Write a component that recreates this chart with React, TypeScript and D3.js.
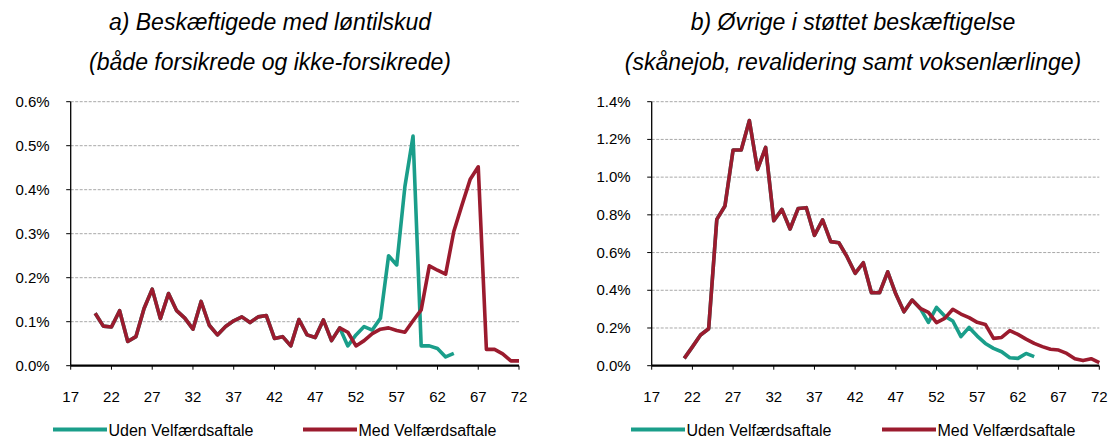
import React from "react";
import * as d3 from "d3";

// ---------- data ----------
const xTicks = [17, 22, 27, 32, 37, 42, 47, 52, 57, 62, 67, 72];
const yTicksA = [0, 0.1, 0.2, 0.3, 0.4, 0.5, 0.6];
const yTicksB = [0, 0.2, 0.4, 0.6, 0.8, 1.0, 1.2, 1.4];

const titleA = ["a) Beskæftigede med løntilskud", "(både forsikrede og ikke-forsikrede)"];
const titleB = ["b) Øvrige i støttet beskæftigelse", "(skånejob, revalidering samt voksenlærlinge)"];
const seriesNames = ["Uden Velfærdsaftale", "Med Velfærdsaftale"];

// Panel a: ages 20..72 (Med), 20..64 (Uden); values in %
const agesMedA = [20,21,22,23,24,25,26,27,28,29,30,31,32,33,34,35,36,37,38,39,40,41,42,43,44,45,46,47,48,49,50,51,52,53,54,55,56,57,58,59,60,61,62,63,64,65,66,67,68,69,70,71,72];
const medA = [0.119,0.090,0.088,0.125,0.055,0.066,0.130,0.174,0.107,0.164,0.125,0.108,0.083,0.146,0.092,0.070,0.089,0.102,0.111,0.098,0.111,0.114,0.062,0.066,0.045,0.105,0.070,0.064,0.104,0.057,0.086,0.076,0.045,0.057,0.073,0.083,0.086,0.080,0.076,0.102,0.127,0.227,0.217,0.208,0.305,0.365,0.423,0.452,0.037,0.037,0.027,0.011,0.011];
const agesUdenA = [20,21,22,23,24,25,26,27,28,29,30,31,32,33,34,35,36,37,38,39,40,41,42,43,44,45,46,47,48,49,50,51,52,53,54,55,56,57,58,59,60,61,62,63,64];
const udenA = [0.119,0.090,0.088,0.125,0.055,0.066,0.130,0.174,0.107,0.164,0.125,0.108,0.083,0.146,0.092,0.070,0.089,0.102,0.111,0.098,0.111,0.114,0.062,0.066,0.045,0.105,0.070,0.064,0.104,0.057,0.086,0.045,0.070,0.089,0.081,0.108,0.250,0.229,0.407,0.522,0.045,0.045,0.039,0.020,0.028];

// Panel b: ages 21..72 (Med), 21..64 (Uden)
const agesMedB = [21,22,23,24,25,26,27,28,29,30,31,32,33,34,35,36,37,38,39,40,41,42,43,44,45,46,47,48,49,50,51,52,53,54,55,56,57,58,59,60,61,62,63,64,65,66,67,68,69,70,71,72];
const medB = [0.039,0.100,0.163,0.196,0.776,0.847,1.144,1.144,1.300,1.041,1.158,0.769,0.829,0.725,0.834,0.838,0.691,0.773,0.658,0.652,0.578,0.490,0.546,0.387,0.387,0.498,0.380,0.286,0.348,0.304,0.283,0.228,0.251,0.299,0.274,0.255,0.230,0.219,0.145,0.150,0.186,0.166,0.141,0.118,0.101,0.087,0.083,0.065,0.037,0.027,0.037,0.016];
const agesUdenB = [21,22,23,24,25,26,27,28,29,30,31,32,33,34,35,36,37,38,39,40,41,42,43,44,45,46,47,48,49,50,51,52,53,54,55,56,57,58,59,60,61,62,63,64];
const udenB = [0.039,0.100,0.163,0.196,0.776,0.847,1.144,1.144,1.300,1.041,1.158,0.769,0.829,0.725,0.834,0.838,0.691,0.773,0.658,0.652,0.578,0.490,0.546,0.387,0.387,0.498,0.380,0.286,0.348,0.304,0.230,0.309,0.263,0.237,0.154,0.203,0.157,0.118,0.092,0.074,0.042,0.039,0.065,0.048];

const TEAL = "#1a9e8a";
const RED = "#9b1b2e";
const FONT = "'Liberation Sans', Arial, Helvetica, sans-serif";

type PanelProps = {
  x0: number; x1: number; y0: number; y1: number;
  yMax: number; yTicks: number[]; decimals: number;
  title: string[]; titleX: number;
  agesUden: number[]; uden: number[]; agesMed: number[]; med: number[];
  legendX: number[];
};

function Panel(p: PanelProps) {
  const x = d3.scaleLinear().domain([17, 72]).range([p.x0, p.x1]);
  const y = d3.scaleLinear().domain([0, p.yMax]).range([p.y1, p.y0]);
  const line = d3.line<[number, number]>().x((d) => x(d[0])).y((d) => y(d[1]));
  const udenPts = p.agesUden.map((a, i) => [a, p.uden[i]] as [number, number]);
  const medPts = p.agesMed.map((a, i) => [a, p.med[i]] as [number, number]);
  const fmt = (v: number) => v.toFixed(p.decimals) + "%";
  return (
    <g>
      {p.title.map((t, i) => (
        <text key={i} x={p.titleX} y={30 + i * 39.5} textAnchor="middle" fontStyle="italic"
          fontSize={23} fontFamily={FONT} fill="#000">{t}</text>
      ))}
      {p.yTicks.map((v) => (
        <g key={v}>
          {v > 0 && (
            <line x1={p.x0} x2={p.x1} y1={y(v)} y2={y(v)} stroke="#a8a8a8" strokeWidth={1} strokeDasharray="3,1.5" />
          )}
          <line x1={p.x0 - 4.5} x2={p.x0} y1={y(v)} y2={y(v)} stroke="#000" strokeWidth={1} />
          <text x={p.x0 - 21} y={y(v) + 5} textAnchor="end" fontSize={15} fontFamily={FONT} fill="#000">{fmt(v)}</text>
        </g>
      ))}
      {xTicks.map((t) => (
        <g key={t}>
          <line x1={x(t)} x2={x(t)} y1={p.y1} y2={p.y1 + 4} stroke="#000" strokeWidth={1} />
          <text x={x(t)} y={401.5} textAnchor="middle" fontSize={15} fontFamily={FONT} fill="#000">{t}</text>
        </g>
      ))}
      <line x1={p.x0} x2={p.x0} y1={p.y0} y2={p.y1} stroke="#000" strokeWidth={1.3} />
      <line x1={p.x0} x2={p.x1} y1={p.y1} y2={p.y1} stroke="#000" strokeWidth={2.3} />
      <path d={line(udenPts) || ""} fill="none" stroke={TEAL} strokeWidth={3.6} strokeLinejoin="round" />
      <path d={line(medPts) || ""} fill="none" stroke={RED} strokeWidth={3.6} strokeLinejoin="round" />
      {[TEAL, RED].map((c, i) => (
        <g key={i}>
          <line x1={p.legendX[i]} x2={p.legendX[i] + 54} y1={429.5} y2={429.5} stroke={c} strokeWidth={4} />
          <text x={p.legendX[i] + 55.5} y={435.5} fontSize={16} fontFamily={FONT} fill="#000">{seriesNames[i]}</text>
        </g>
      ))}
    </g>
  );
}

export default function App() {
  return (
    <div style={{ position: "fixed", left: 0, top: 0 }}>
      <svg width={1109} height={438} style={{ display: "block", background: "#fff" }}>
        <Panel x0={70.7} x1={519} y0={101.7} y1={365.7} yMax={0.6} yTicks={yTicksA} decimals={1}
          title={titleA} titleX={270} agesUden={agesUdenA} uden={udenA} agesMed={agesMedA} med={medA}
          legendX={[53, 303]} />
        <Panel x0={651.7} x1={1099.3} y0={101.7} y1={365.7} yMax={1.4} yTicks={yTicksB} decimals={1}
          title={titleB} titleX={853} agesUden={agesUdenB} uden={udenB} agesMed={agesMedB} med={medB}
          legendX={[631, 882]} />
      </svg>
    </div>
  );
}
